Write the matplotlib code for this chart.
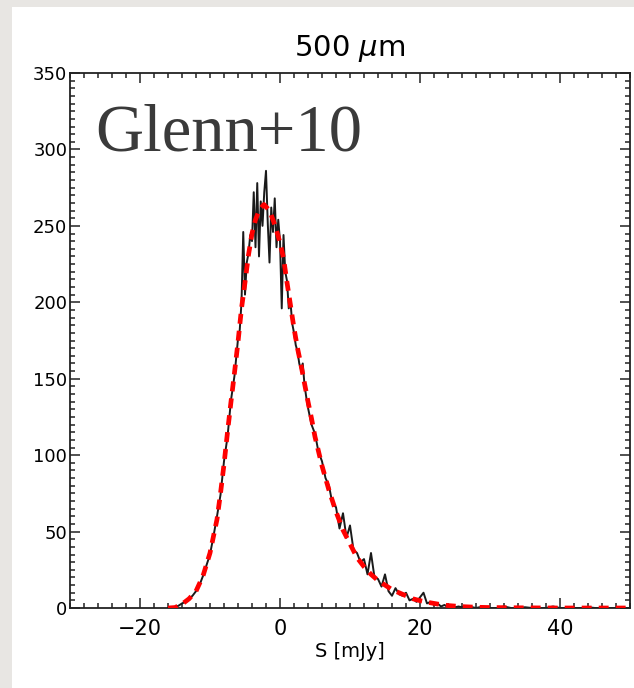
import numpy as np
import matplotlib
matplotlib.use("Agg")
import matplotlib.pyplot as plt
from matplotlib.patches import Rectangle
from matplotlib.ticker import MultipleLocator

# model P(D) curve (red dashed)
model_x = [-16, -15, -14, -13, -12, -11, -10, -9, -8.5, -8, -7.5, -7, -6.5, -6,
           -5.5, -5, -4.5, -4, -3.5, -3, -2.3, -1.5, -1, -0.5, 0, 0.5, 1, 1.5,
           2, 2.5, 3, 3.5, 4, 4.5, 5, 6, 7, 8, 9, 10, 11, 12, 13, 14, 15, 16,
           17, 18, 19, 20, 21, 22, 23, 24, 26, 28, 30, 35, 40, 50]
model_y = [0, 0.3, 2.5, 6, 11, 21, 36, 58, 75, 94, 115, 135, 154, 174,
           196, 213, 231, 245, 254, 260, 264, 260, 254, 247, 239, 229, 213, 198,
           183, 170, 159, 147, 135, 124, 112, 93, 77, 63, 51, 42, 33, 27, 22, 18, 15, 12,
           10, 8, 6, 4.8, 3.8, 3, 2.2, 1.6, 0.9, 0.5, 0.3, 0.1, 0, 0]

# observed histogram (black)
data_x = np.concatenate([np.arange(-16, -6, 0.5), np.arange(-6, 4.01, 0.25),
                         np.arange(4.5, 30.01, 0.5), np.arange(31, 51, 1)])
data_y = [0, 0, 0.5, 1.5, 3, 4, 6, 8, 11, 15, 21, 28, 35, 47, 60, 74, 96, 112, 136, 152,
          176, 182, 200, 246, 205, 226, 232, 244, 240, 272, 236, 278, 230, 266, 250, 272,
          286, 252, 226, 262, 246, 268, 236, 254, 240, 196, 244, 220, 214, 196, 200, 186,
          180, 172, 168, 160, 156, 160, 146, 138, 131,
          120, 114, 102, 96, 85, 80, 68, 66, 52, 62, 46, 54, 38, 36, 30, 32, 22, 36, 20, 19,
          14, 22, 11, 8, 13, 9, 8, 10, 5, 6, 4, 7, 10, 3, 4, 2, 3, 1, 2, 0.5,
          1.5, 0.5, 1, 0.5, 1, 0, 0.5, 0, 0.5, 0, 0, 0,
          0, 1, 0, 0, 0.5, 0, 0, 0, 1, 0, 0, 0, 0, 0.5, 0, 0, 0, 0, 0, 0]

fig = plt.figure(figsize=(6.34, 6.88), dpi=100, facecolor="#e8e6e3")
fig.patches.append(Rectangle((13 / 634, 0), 1, 1 - 8 / 688, transform=fig.transFigure,
                             facecolor="#e0deda", edgecolor="none", zorder=-2))
fig.patches.append(Rectangle((12 / 634, 0), 1, 1 - 7 / 688, transform=fig.transFigure,
                             facecolor="white", edgecolor="none", zorder=-1))

ax = fig.add_axes([70 / 634, 1 - 608 / 688, 560 / 634, 535 / 688])
ax.plot(data_x, data_y, color="#1a1a1a", lw=1.4, zorder=2)
ax.plot(model_x, model_y, color="#ff0000", lw=3.4, dashes=(2.1, 1.5), zorder=3)

ax.set_xlim(-30, 50)
ax.set_ylim(0, 350)
ax.xaxis.set_major_locator(MultipleLocator(20))
ax.xaxis.set_minor_locator(MultipleLocator(2))
ax.yaxis.set_major_locator(MultipleLocator(50))
ax.yaxis.set_minor_locator(MultipleLocator(5))
ax.tick_params(which="both", direction="in", top=True, right=True, width=1.1, color="#222")
ax.tick_params(which="major", length=7)
ax.tick_params(which="minor", length=3.5)
ax.tick_params(axis="x", labelsize=15, pad=8)
ax.tick_params(axis="y", labelsize=13, pad=2)
for s in ax.spines.values():
    s.set_linewidth(1.3)
    s.set_color("#222")

ax.set_xlabel("S [mJy]", fontsize=14, labelpad=2)
ax.set_title("500 $\\mu$m", fontsize=21, pad=12)
ax.text(0.045, 0.855, "Glenn+10", transform=ax.transAxes, family="Liberation Serif",
        fontsize=48, color="#3a3a3a", va="baseline")

plt.savefig("out.png", dpi=100, facecolor=fig.get_facecolor())
